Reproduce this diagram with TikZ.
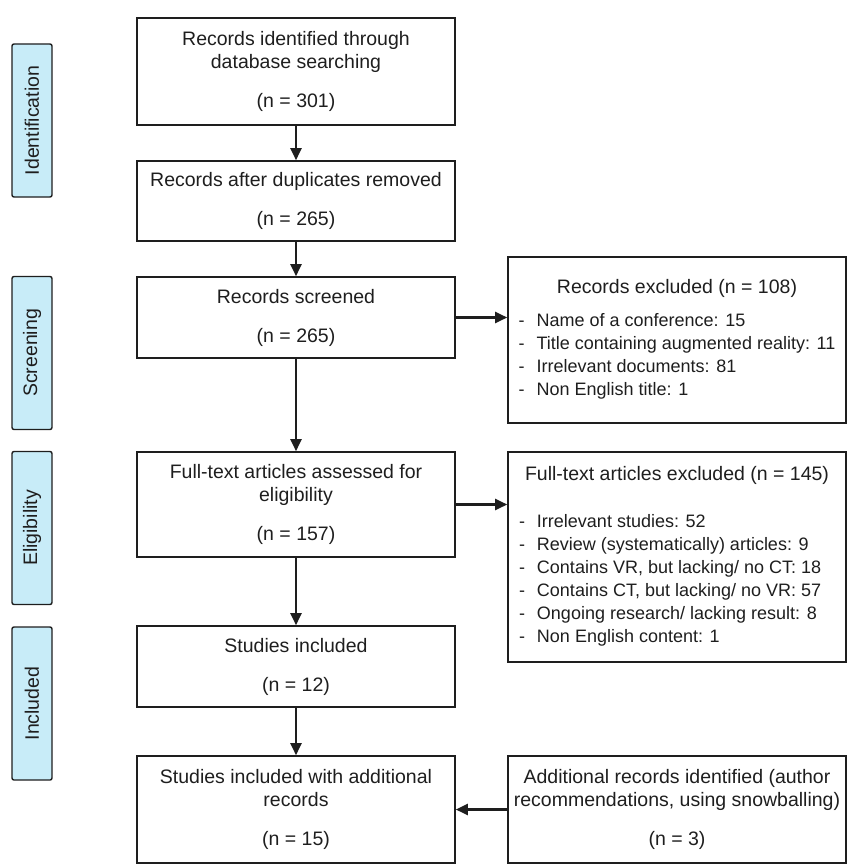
\documentclass[tikz,border=0pt]{standalone}
\usepackage{fontspec}
\setmainfont{Liberation Sans}
\usetikzlibrary{arrows.meta}
\definecolor{stagefill}{RGB}{200,236,248}
\definecolor{ink}{RGB}{30,30,30}

\begin{document}
\begin{tikzpicture}[x=1pt,y=-1pt,
  box/.style={draw=ink,text=ink,line width=1.6pt,minimum width=318pt,inner sep=0pt,align=center,font=\fontsize{19.5}{23}\selectfont},
  side/.style={draw=ink,text=ink,line width=1.6pt,minimum width=338pt,inner sep=0pt,align=center,font=\fontsize{18}{23}\selectfont},
  stage/.style={draw=ink,text=ink,line width=1.4pt,rounded corners=2pt,fill=stagefill,minimum width=153pt,minimum height=40pt,inner sep=0pt,rotate=90,font=\fontsize{19.5}{23}\selectfont},
  arr/.style={-{Triangle[length=12pt,width=11pt]},draw=ink,line width=2.2pt}]
\useasboundingbox (0,0) rectangle (848,864);
% stages
\node [stage] (sid) at (32,120.5) {Identification};
\node [stage] (ssc) at (32,353) {Screening};
\node [stage] (sel) at (32,528) {Eligibility};
\node [stage] (sin) at (32,703.5) {Included};
% main column
\node [box,minimum height=107pt] (ident) at (296,71.5) {Records identified through\\database searching\\[16pt](n = 301)};
\node [box,minimum height=80pt] (dup) at (296,201) {Records after duplicates removed\\[16pt](n = 265)};
\node [box,minimum height=81pt] (screen) at (296,317.5) {Records screened\\[16pt](n = 265)};
\node [box,minimum height=105pt] (full) at (296,504.5) {Full-text articles assessed for\\eligibility\\[16pt](n = 157)};
\node [box,minimum height=81pt] (incl) at (296,666.5) {Studies included\\[16pt](n = 12)};
\node [box,minimum height=107pt] (final) at (296,809.5) {Studies included with additional\\records\\[16pt](n = 15)};
% right column
\node [side,minimum height=166pt] (excl) at (677,340) {\begin{tabular}{@{}l@{\hspace{12pt}}l@{}}
\multicolumn{2}{c}{\fontsize{19.5}{23}\selectfont Records excluded (n = 108)}\\[10pt]
- & Name of a conference: 15\\
- & Title containing augmented reality: 11\\
- & Irrelevant documents: 81\\
- & Non English title: 1
\end{tabular}};
\node [side,minimum height=210pt] (fexcl) at (677,557) {\begin{tabular}{@{}l@{\hspace{12pt}}l@{}}
\multicolumn{2}{c}{\fontsize{19.5}{23}\selectfont Full-text articles excluded (n = 145)}\\[24pt]
- & Irrelevant studies: 52\\
- & Review (systematically) articles: 9\\
- & Contains VR, but lacking/ no CT: 18\\
- & Contains CT, but lacking/ no VR: 57\\
- & Ongoing research/ lacking result: 8\\
- & Non English content: 1
\end{tabular}};
\node [side,minimum height=107pt,font=\fontsize{19.5}{23}\selectfont] (extra) at (677,809.5) {Additional records identified (author\\recommendations, using snowballing)\\[16pt](n = 3)};
% arrows
\draw [arr] (ident) -- (dup);
\draw [arr] (dup) -- (screen);
\draw [arr] (screen) -- (full);
\draw [arr] (full) -- (incl);
\draw [arr] (incl) -- (final);
\draw [arr] (screen.east) -- (screen.east -| excl.west);
\draw [arr] (full.east) -- (full.east -| fexcl.west);
\draw [arr] (extra.west) -- (extra.west -| final.east);
\end{tikzpicture}
\end{document}
